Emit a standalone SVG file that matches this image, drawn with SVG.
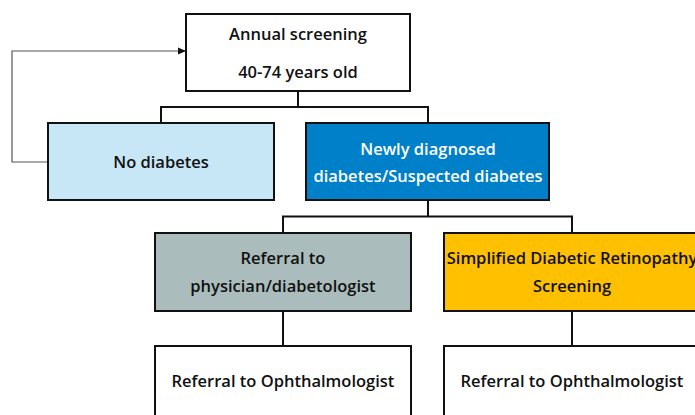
<svg xmlns="http://www.w3.org/2000/svg" width="695" height="415" viewBox="0 0 695 415">
<defs>
<marker id="arr" markerWidth="8" markerHeight="8" refX="7" refY="4" orient="auto" markerUnits="userSpaceOnUse">
<path d="M0,0.5 L8,4 L0,7.5 Z" fill="#111"/>
</marker>
<style>
.box{stroke:#111;stroke-width:2}
.t{font-family:"Open Sans","Liberation Sans",sans-serif;font-weight:600;font-size:16.5px;text-anchor:middle;fill:#111}
.w{fill:#fff}
.c{fill:none;stroke:#111;stroke-width:2}
.fb{fill:none;stroke:#555;stroke-width:1.2}
</style>
</defs>
<rect width="695" height="415" fill="#fff"/>
<g id="connectors">
<path class="c" d="M298,91 V107 M161,123 V107 H428 V123"/>
<path class="c" d="M428,200 V216.5 M283,233 V216.5 H572 V233"/>
<path class="c" d="M283,311 V346"/>
<path class="c" d="M572,311 V346"/>
<path class="fb" d="M48,162 H12 V51 H185" marker-end="url(#arr)"/>
</g>
<g id="annual">
<rect class="box" x="186" y="14" width="224" height="77" fill="#fff"/>
<text class="t" x="298" y="40">Annual screening</text>
<text class="t" x="298" y="78">40-74 years old</text>
</g>
<g id="nodiabetes">
<rect class="box" x="48" y="123" width="226" height="77" fill="#C7E6F6"/>
<text class="t" x="161" y="168">No diabetes</text>
</g>
<g id="newly">
<rect class="box" x="306" y="123" width="243" height="77" fill="#0080C8"/>
<text class="t w" x="428" y="155">Newly diagnosed</text>
<text class="t w" x="428" y="182">diabetes/Suspected diabetes</text>
</g>
<g id="referral-physician">
<rect class="box" x="155" y="233" width="256" height="78" fill="#AABCBB"/>
<text class="t" x="283" y="264">Referral to</text>
<text class="t" x="283" y="292">physician/diabetologist</text>
</g>
<g id="sdrs">
<rect class="box" x="444" y="233" width="262" height="78" fill="#FFC000"/>
<text class="t" x="572" y="264">Simplified Diabetic Retinopathy</text>
<text class="t" x="572" y="292">Screening</text>
</g>
<g id="ophth-left">
<rect class="box" x="155" y="346" width="256" height="80" fill="#fff"/>
<text class="t" x="283" y="387">Referral to Ophthalmologist</text>
</g>
<g id="ophth-right">
<rect class="box" x="444" y="346" width="262" height="80" fill="#fff"/>
<text class="t" x="572" y="387">Referral to Ophthalmologist</text>
</g>
</svg>
